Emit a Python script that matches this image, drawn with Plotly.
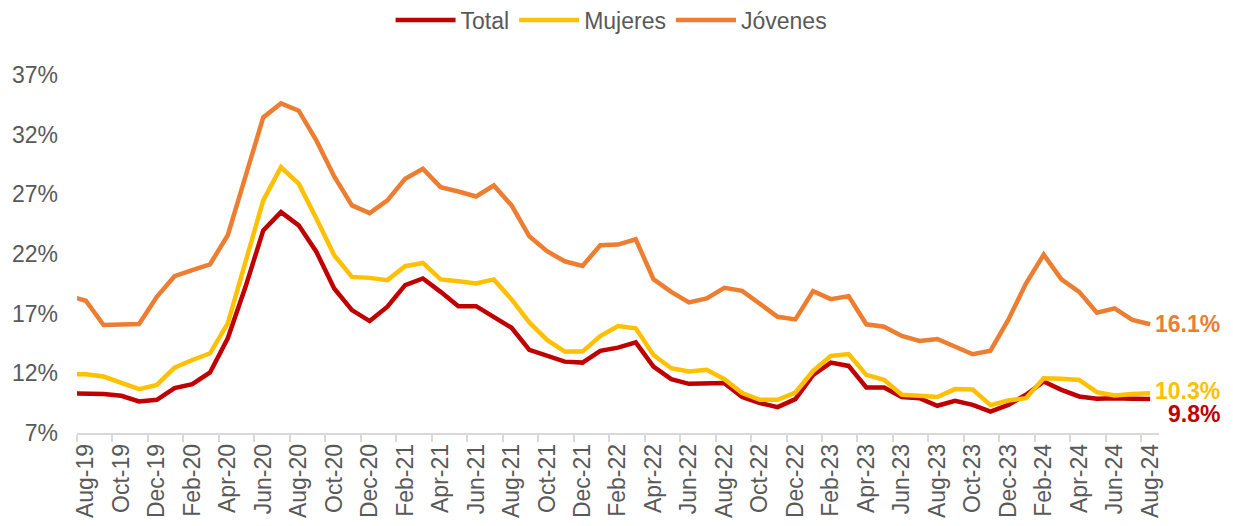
import pandas as pd
import plotly.graph_objects as go

# Monthly categories Jul-19 .. Aug-24 (Jul-19 only appears as the clipped stub at the left edge)
months = list(pd.date_range("2019-07-01", periods=62, freq="MS").strftime("%b-%y"))

total = [10.34,
         10.34, 10.26, 10.12, 9.64, 9.78, 10.76, 11.09, 12.07, 14.94, 19.25, 23.98, 25.51,
         24.4, 22.17, 19.11, 17.3, 16.38, 17.58, 19.39, 19.95, 18.83, 17.63, 17.63, 16.74,
         15.82, 13.96, 13.46, 12.98, 12.9, 13.88, 14.15, 14.6, 12.56, 11.51, 11.12, 11.18,
         11.18, 10.01, 9.51, 9.17, 9.84, 11.87, 12.9, 12.62, 10.81, 10.81, 10.01, 9.92,
         9.28, 9.7, 9.36, 8.8, 9.36, 10.2, 11.31, 10.62, 10.06, 9.87, 9.92, 9.87, 9.84]

mujeres = [11.93,
           11.93, 11.73, 11.23, 10.67, 11.03, 12.48, 13.12, 13.68, 16.19, 21.34, 26.49, 29.27,
           27.89, 24.96, 21.9, 20.08, 20.0, 19.81, 20.98, 21.25, 19.87, 19.72, 19.53, 19.87,
           18.19, 16.27, 14.8, 13.82, 13.82, 15.13, 15.96, 15.77, 13.54, 12.43, 12.15, 12.29,
           11.51, 10.34, 9.78, 9.78, 10.39, 12.2, 13.46, 13.62, 11.87, 11.45, 10.2, 10.12,
           10.01, 10.68, 10.64, 9.34, 9.72, 9.92, 11.59, 11.54, 11.45, 10.42, 10.14, 10.26, 10.34]

jovenes = [18.5,
           18.08, 16.05, 16.05, 16.13, 18.41, 20.14, 20.64, 21.14, 23.57, 28.5, 33.45, 34.62,
           34.01, 31.5, 28.5, 26.07, 25.43, 26.49, 28.3, 29.14, 27.6, 27.24, 26.82, 27.74,
           26.07, 23.48, 22.23, 21.39, 21.0, 22.73, 22.79, 23.23, 19.89, 18.83, 17.94, 18.28,
           19.17, 18.91, 17.86, 16.74, 16.52, 18.89, 18.22, 18.47, 16.11, 15.91, 15.13, 14.71,
           14.88, 14.24, 13.6, 13.9, 16.47, 19.53, 21.95, 19.87, 18.83, 17.08, 17.44, 16.47, 16.11]

series = [("Total", total, "#C00000"),
          ("Mujeres", mujeres, "#FFC000"),
          ("Jóvenes", jovenes, "#ED7D31")]

FONT = "Liberation Sans, Arial, sans-serif"
GREY = "#595959"

fig = go.Figure()
for name, vals, col in series:
    fig.add_trace(go.Scatter(x=months, y=vals, name=name, mode="lines",
                             line=dict(color=col, width=4.5)))

# end labels
end_labels = [("16.1%", jovenes[-1], "#ED7D31", "left", 4, 0),
              ("10.3%", mujeres[-1], "#FFC000", "left", 4, 2),
              ("9.8%", total[-1], "#C00000", "right", 71, -15)]
for txt, v, col, anchor, xs, ys in end_labels:
    fig.add_annotation(x=months[-1], y=v, text=txt, showarrow=False,
                       xanchor=anchor, yanchor="middle", xshift=xs, yshift=ys,
                       borderpad=0,
                       font=dict(family=FONT, size=23, color=col, weight="bold"))

fig.update_layout(
    width=1233, height=526,
    margin=dict(l=77, r=74, t=75, b=93, autoexpand=False),
    paper_bgcolor="white", plot_bgcolor="white",
    font=dict(family=FONT, size=23, color=GREY),
    showlegend=True,
    legend=dict(orientation="h", xref="container", yref="container",
                x=0.496, xanchor="center", y=0.962, yanchor="middle",
                font=dict(family=FONT, size=23, color=GREY),
                itemwidth=60, tracegroupgap=0, bgcolor="rgba(0,0,0,0)"),
    xaxis=dict(type="category", range=[0.5, 61.5], automargin=False,
               tickmode="linear", tick0=1, dtick=2, tickson="boundaries",
               tickangle=-90, ticks="outside", ticklen=7, tickwidth=1.5,
               tickcolor="#D9D9D9", showline=True, linecolor="#D9D9D9",
               linewidth=1.5, showgrid=False, zeroline=False,
               tickfont=dict(family=FONT, size=23, color=GREY)),
    yaxis=dict(range=[7, 37], tickmode="linear", tick0=7, dtick=5, automargin=False,
               ticksuffix="%", showgrid=False, zeroline=False, showline=False,
               ticks="", ticklabelstandoff=18,
               tickfont=dict(family=FONT, size=23, color=GREY)),
)

fig.write_html("out.html", config={"displayModeBar": False},
               post_script="document.body.style.margin='0';document.body.style.overflow='hidden';")
